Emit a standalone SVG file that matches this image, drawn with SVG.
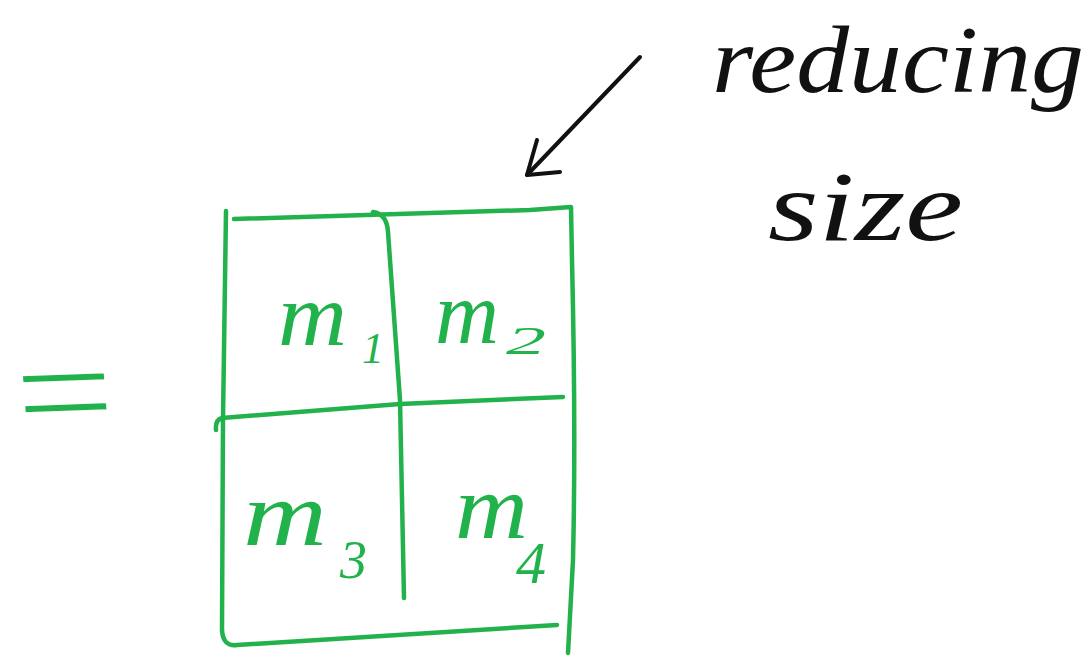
<svg xmlns="http://www.w3.org/2000/svg" width="1090" height="665" viewBox="0 0 1090 665">
<style>
.g{fill:none;stroke:#22b24c;stroke-width:4.5;stroke-linecap:round;stroke-linejoin:round}
.k{fill:none;stroke:#111;stroke-width:4;stroke-linecap:round;stroke-linejoin:round}
.lbl{font-family:"Liberation Serif",serif;font-style:italic;fill:#22b24c}
.hw{font-family:"Liberation Serif",serif;font-style:italic;fill:#111}
</style>
<rect width="1090" height="665" fill="#fff"/>
<g id="equals">
<text class="lbl" style="font-style:normal;font-family:'Liberation Sans',sans-serif" font-size="120" stroke="#fff" stroke-width="2.5" transform="translate(17,434) scale(1.45,1) rotate(-3)">=</text>
</g>
<g id="grid">
<path class="g" d="M226,211 L223,420 L222,630 Q223,647 237,645 L557,625"/>
<path class="g" d="M234,219 L530,210 L571,207 L572,260 Q576,430 573,560 L568,653"/>
<path class="g" d="M373,212 Q387,214 388,232 L400,400 L404,598"/>
<path class="g" d="M216,430 Q215,420 222,418 L400,404 L563,397"/>
</g>
<g id="m1">
<text class="lbl" x="278" y="345" font-size="88" textLength="69" lengthAdjust="spacingAndGlyphs">m</text>
<text class="lbl" x="362" y="363" font-size="44">1</text>
</g>
<g id="m2">
<text class="lbl" x="435" y="343" font-size="88" textLength="64" lengthAdjust="spacingAndGlyphs">m</text>
<text class="lbl" x="506" y="354" font-size="40" textLength="40" lengthAdjust="spacingAndGlyphs">2</text>
</g>
<g id="m3">
<text class="lbl" x="243" y="545" font-size="92" textLength="84" lengthAdjust="spacingAndGlyphs">m</text>
<text class="lbl" x="340" y="578" font-size="54">3</text>
</g>
<g id="m4">
<text class="lbl" x="455" y="538" font-size="90" textLength="73" lengthAdjust="spacingAndGlyphs">m</text>
<text class="lbl" x="516" y="583" font-size="60">4</text>
</g>
<g id="connectors">
<path class="k" d="M640,57 L527,175"/>
<path class="k" d="M537,140 L527,175 L560,172"/>
</g>
<g id="note">
<text class="hw" x="712" y="92" font-size="95" textLength="372" lengthAdjust="spacingAndGlyphs">reducing</text>
<text class="hw" x="768" y="240" font-size="100" textLength="195" lengthAdjust="spacingAndGlyphs">size</text>
</g>
</svg>
